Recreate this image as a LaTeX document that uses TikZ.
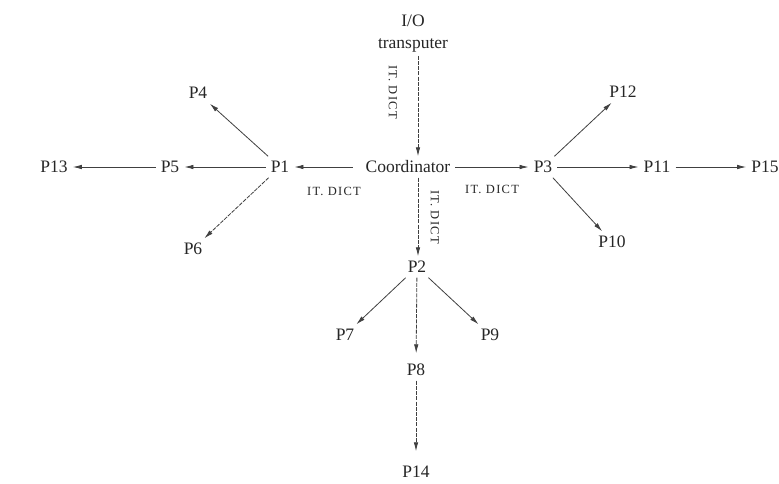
\documentclass[tikz,border=0pt]{standalone}
\usepackage{fontspec}
\setmainfont{Liberation Serif}
\usetikzlibrary{arrows.meta,calc}
\begin{document}
\begin{tikzpicture}[x=1pt,y=-1pt,
  lbl/.style={font=\fontsize{17.5}{21}\selectfont, inner sep=5pt, text height=11pt, text depth=0pt, text=black!85},
  sm/.style={font=\fontsize{12.5}{14}\selectfont\addfontfeature{LetterSpace=10}, inner sep=1pt, text=black!85},
  arr/.style={-{Latex[length=9pt,width=4.5pt]}, line width=0.8pt, draw=black!75},
  darr/.style={arr, dash pattern=on 4pt off 1.2pt}]
\useasboundingbox[fill=white] (0,0) rectangle (779,483);
\coordinate (vx) at (418,0);
% nodes
\node[font=\fontsize{17.5}{22}\selectfont, align=center, inner sep=3pt, text=black!85] (io) at (413,34) {I/O\\transputer};
\node[lbl] (coord) at (408,167) {Coordinator};
\node[lbl] (p1) at (280,167) {P1};
\node[lbl] (p5) at (170,167) {P5};
\node[lbl] (p13) at (54,167) {P13};
\node[lbl] (p4) at (198,93) {P4};
\node[lbl] (p6) at (193,249) {P6};
\node[lbl] (p3) at (543,167) {P3};
\node[lbl] (p11) at (657,167) {P11};
\node[lbl] (p15) at (765,167) {P15};
\node[lbl] (p12) at (623,92) {P12};
\node[lbl] (p10) at (612,242) {P10};
\node[lbl] (p2) at (417,267) {P2};
\node[lbl] (p7) at (345,335) {P7};
\node[lbl] (p9) at (490,335) {P9};
\node[lbl] (p8) at (416,370) {P8};
\node[lbl] (p14) at (416,472) {P14};
% labels
\node[sm, rotate=-90] (l1) at (393,92) {IT. DICT};
\node[sm, rotate=-90] (l2) at (435,217) {IT. DICT};
\node[sm] (l3) at (334,191) {IT. DICT};
\node[sm] (l4) at (492,189) {IT. DICT};
% connectors
\draw[darr] (io.south -| vx) -- (coord.north -| vx);
\draw[arr, shorten <=8pt] (coord) -- (p1);
\draw[arr] (coord) -- (p3);
\draw[darr] (coord.south -| vx) -- (p2.north -| vx);
\draw[arr] (p1) -- (p5);
\draw[arr] (p5) -- (p13);
\draw[arr] (p1) -- (p4);
\draw[darr] (p1) -- (p6);
\draw[arr] (p3) -- (p12);
\draw[arr] (p3) -- (p10);
\draw[arr] (p3) -- (p11);
\draw[arr] (p11) -- (p15);
\draw[arr] (p2) -- (p7);
\draw[arr] (p2) -- (p9);
\draw[darr, shorten >=6pt] (p2) -- (p8);
\draw[darr, shorten >=10pt] (p8) -- (p14);
\end{tikzpicture}
\end{document}
